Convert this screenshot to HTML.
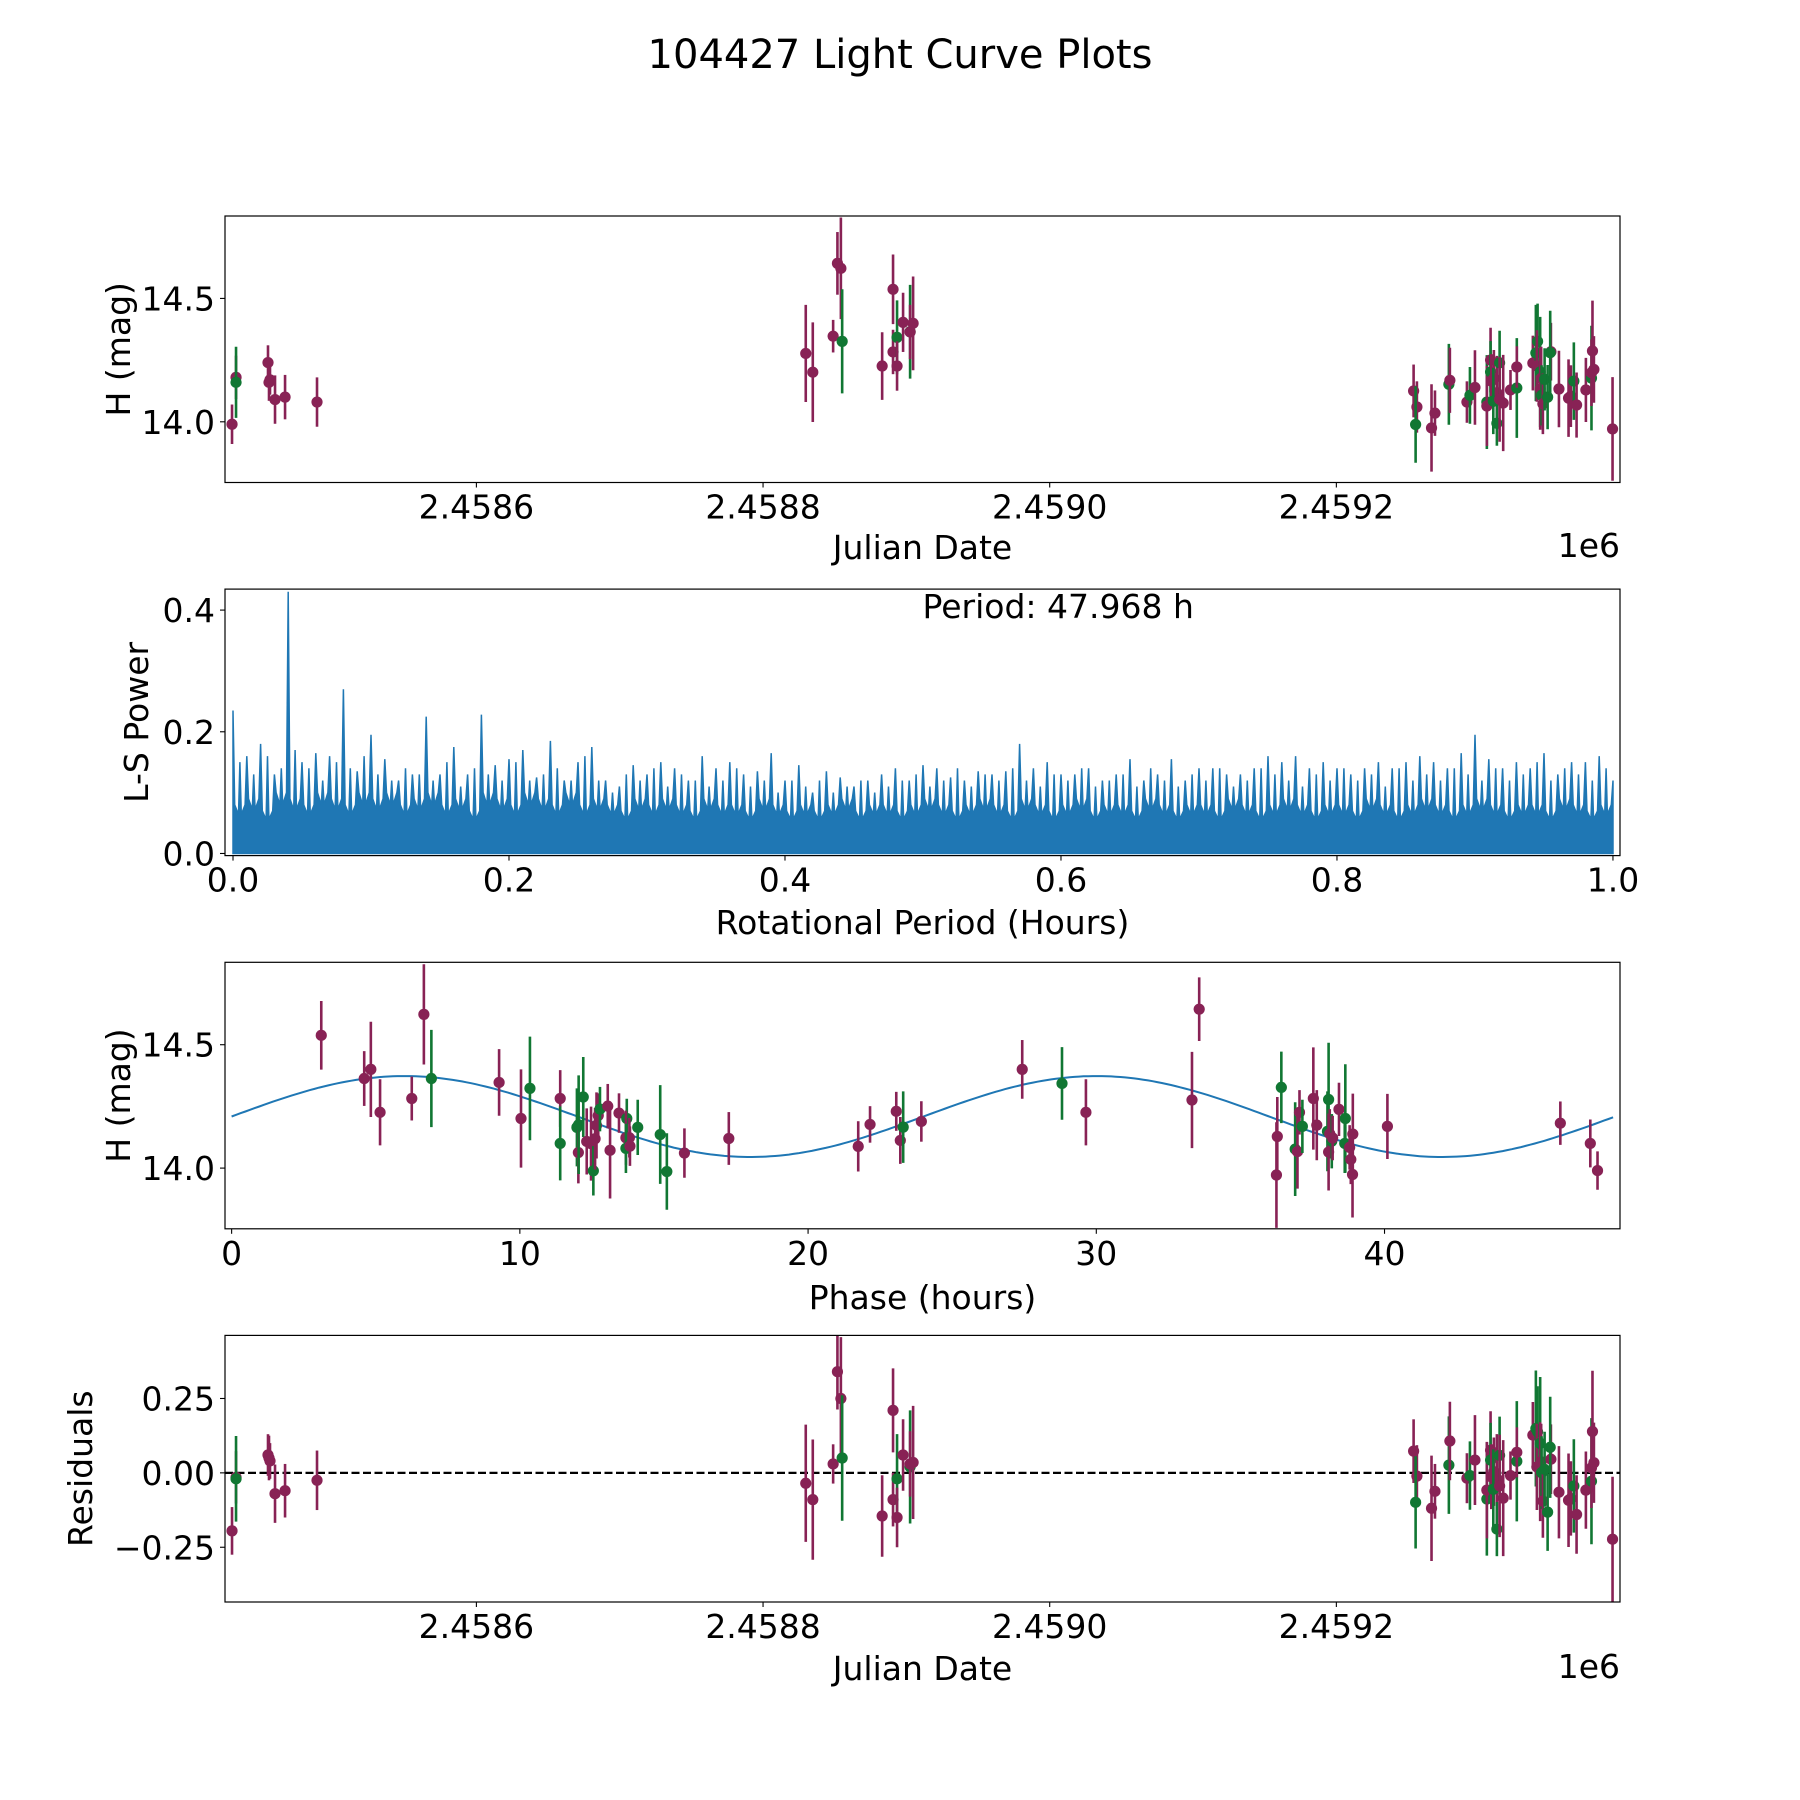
<!DOCTYPE html>
<html>
<head>
<meta charset="utf-8">
<style>
html,body{margin:0;padding:0;background:#fff;}
svg{display:block;font-family:"DejaVu Sans","Liberation Sans",sans-serif;}
</style>
</head>
<body>
<svg id="fig" width="1800" height="1800" viewBox="0 0 1800 1800" xmlns="http://www.w3.org/2000/svg">
<rect x="0" y="0" width="1800" height="1800" fill="#fff"/>
<text x="900" y="68" font-size="40" text-anchor="middle">104427 Light Curve Plots</text>
</svg>
<script>
// ---------- Light curve data (JD - 2458000) ----------
const jdOffset = [429.5,432.3,432.3,454.6,455.3,456,459.5,466.5,488.8,
829.8,834.7,848.9,851.9,854.3,855.2,883.1,890.7,890.7,893.5,893.5,897.7,902.6,902.6,904.7,
1253.9,1256.2,1255.3,1266.4,1268.8,1278.5,1279.2,1291.1,1293.2,1296.7,1305.0,1305.0,1307.6,1307.6,1308.1,1309.9,1312.0,1312.0,1309.5,1313.9,1313.9,1316.4,1321.5,1325.9,1325.9,1337.1,1339.2,1340.4,1339.9,1342.2,1342.9,1342.2,1343.2,1344.1,1345.3,1347.4,1349.7,1349.2,1355.3,1362.0,1363.6,1365.7,1367.6,1374.1,1378.0,1378.0,1378.7,1379.7,1392.7];
const mags = [13.99,14.18,14.16,14.24,14.16,14.17,14.09,14.10,14.08,
14.277,14.201,14.347,14.642,14.622,14.326,14.226,14.537,14.283,14.342,14.226,14.403,14.365,14.364,14.399,
14.125,14.060,13.989,13.975,14.035,14.152,14.168,14.080,14.107,14.139,14.080,14.064,14.250,14.202,14.165,14.176,14.118,13.994,14.084,14.239,14.091,14.076,14.129,14.137,14.222,14.238,14.279,14.326,14.226,14.202,14.176,14.134,14.107,14.073,14.172,14.100,14.284,14.280,14.133,14.096,14.104,14.165,14.068,14.129,14.177,14.199,14.287,14.212,13.971];
const magErrs = [0.08,0.088,0.144,0.07,0.075,0.06,0.098,0.09,0.1,
0.197,0.202,0.066,0.127,0.206,0.211,0.137,0.141,0.09,0.15,0.1,0.12,0.19,0.11,0.19,
0.107,0.104,0.155,0.177,0.092,0.164,0.132,0.084,0.115,0.151,0.19,0.162,0.131,0.125,0.109,0.115,0.149,0.091,0.134,0.130,0.172,0.195,0.081,0.202,0.084,0.111,0.195,0.153,0.145,0.223,0.128,0.166,0.122,0.123,0.126,0.130,0.117,0.17,0.155,0.157,0.125,0.157,0.132,0.130,0.212,0.135,0.204,0.135,0.210];
const bands = ["m","m","g","m","m","m","m","m","m",
"m","m","m","m","m","g","m","m","m","g","m","m","g","m","m",
"m","m","g","m","m","g","m","m","g","m","g","m","m","g","m","m","m","g","g","g","m","m","m","g","m","m","g","g","m","g","m","m","g","m","g","g","m","g","m","m","m","g","m","m","g","m","m","m","m"];
const residuals = [-0.195,-0.015,-0.02,0.06,0.05,0.04,-0.07,-0.06,-0.025,
-0.035,-0.09,0.03,0.34,0.25,0.05,-0.145,0.21,-0.09,-0.02,-0.15,0.06,0.02,0.03,0.035,
0.073,-0.011,-0.099,-0.119,-0.062,0.026,0.107,-0.018,-0.009,0.043,-0.088,-0.058,0.076,0.043,-0.013,0.004,-0.019,-0.189,-0.055,0.059,-0.044,-0.085,-0.009,0.039,0.069,0.127,0.149,0.138,0.020,0.099,0.037,0.004,0.001,-0.095,0.012,-0.132,0.046,0.086,-0.065,-0.092,-0.086,-0.044,-0.140,-0.058,-0.028,0.017,0.139,0.034,-0.223];
const jdTicks = [2458600,2458800,2459000,2459200];
const jdTickLabels = ["2.4586","2.4588","2.4590","2.4592"];
const magTicks = [14.0,14.5];
const magTickLabels = ["14.0","14.5"];
const residTicks = [-0.25,0,0.25];
const residTickLabels = ["\u22120.25","0.00","0.25"];

// ---------- Phase-folded data ----------
const phaseHours = [3.11,4.60,4.83,5.15,6.25,6.67,6.93,9.28,10.04,10.35,11.40,11.40,11.98,12.03,12.04,12.20,12.32,12.47,12.55,12.61,12.66,12.72,12.78,13.05,13.13,13.44,13.71,13.68,13.80,13.68,13.82,14.09,14.87,15.10,15.71,
17.25,21.74,22.15,23.06,23.20,23.30,23.93,27.43,28.81,29.64,
33.32,33.57,36.42,36.28,36.25,36.90,36.98,37.05,37.15,37.53,37.65,38.02,38.06,38.06,38.10,38.17,38.20,38.42,38.64,38.62,38.79,38.83,38.90,38.89,40.10,46.10,47.14,47.39];
const phaseMags = [14.538,14.363,14.400,14.226,14.282,14.623,14.363,14.347,14.201,14.323,14.282,14.100,14.165,14.063,14.176,14.288,14.108,14.099,13.989,14.119,14.173,14.213,14.239,14.251,14.072,14.223,14.201,14.123,14.123,14.080,14.089,14.165,14.136,13.986,14.061,
14.120,14.088,14.177,14.230,14.112,14.166,14.189,14.400,14.343,14.226,
14.276,14.644,14.327,14.128,13.972,14.077,14.067,14.226,14.169,14.282,14.174,14.149,14.278,14.065,14.139,14.109,14.122,14.238,14.201,14.100,14.084,14.035,14.138,13.974,14.169,14.182,14.100,13.990];
const phaseErrs = [0.139,0.111,0.193,0.134,0.089,0.203,0.197,0.135,0.199,0.210,0.115,0.15,0.158,0.125,0.2,0.162,0.134,0.15,0.1,0.125,0.134,0.09,0.09,0.09,0.195,0.08,0.08,0.11,0.08,0.1,0.08,0.112,0.2,0.155,0.1,
0.107,0.102,0.074,0.079,0.095,0.145,0.082,0.119,0.147,0.134,
0.195,0.129,0.145,0.16,0.214,0.19,0.15,0.09,0.108,0.207,0.142,0.162,0.23,0.156,0.1,0.11,0.09,0.108,0.22,0.12,0.09,0.1,0.164,0.174,0.132,0.088,0.097,0.078];
const phaseBands = ["m","m","m","m","m","m","g","m","m","g","m","g","g","m","g","g","m","m","g","m","m","m","g","m","m","m","g","m","m","g","m","g","g","g","m",
"m","m","m","m","m","g","m","m","g","m",
"m","m","g","m","m","g","m","m","g","m","m","g","g","m","m","g","m","m","g","g","m","m","m","m","m","m","m","m"];
const fitParams = [14.209, 0.164, 24.0];   // mean mag, amplitude, period (h)
const phaseMax = 47.93;
const phaseTicks = [0,10,20,30,40];

// ---------- Periodogram ----------
const lsPeaks = [0.235,0.16,0.18,0.13,0.43,0.15,0.165,0.16,0.27,0.135,0.195,0.155,0.12,0.13,0.225,0.13,0.175,0.13,0.228,0.145,0.155,0.17,0.125,0.185,0.12,0.15,0.175,0.12,0.11,0.145,0.13,0.15,0.14,0.12,0.16,0.14,0.15,0.13,0.135,0.165,0.12,0.145,0.10,0.135,0.125,0.11,0.12,0.13,0.14,0.12,0.145,0.14,0.125,0.12,0.135,0.13,0.135,0.18,0.14,0.15,0.13,0.13,0.14,0.12,0.13,0.155,0.12,0.13,0.155,0.12,0.14,0.14,0.13,0.13,0.14,0.16,0.15,0.16,0.14,0.15,0.14,0.13,0.14,0.15,0.14,0.15,0.16,0.15,0.14,0.165,0.195,0.155,0.14,0.15,0.14,0.165,0.13,0.15,0.15,0.16,0.12];
const lsPeaks2 = [0.15,0.13,0.16,0.14,0.17,0.14,0.12,0.15,0.14,0.16,0.13,0.12,0.14,0.13,0.12,0.15,0.11,0.14,0.13,0.12,0.15,0.12,0.13,0.14,0.12,0.16,0.12,0.10,0.13,0.12,0.14,0.11,0.13,0.12,0.11,0.12,0.14,0.11,0.12,0.10,0.12,0.11,0.12,0.10,0.11,0.12,0.10,0.11,0.12,0.13,0.11,0.12,0.14,0.11,0.13,0.12,0.14,0.12,0.11,0.13,0.12,0.14,0.11,0.12,0.13,0.11,0.14,0.12,0.11,0.13,0.12,0.14,0.11,0.12,0.14,0.13,0.12,0.11,0.13,0.12,0.14,0.12,0.13,0.11,0.14,0.12,0.13,0.12,0.14,0.13,0.12,0.14,0.12,0.13,0.15,0.12,0.14,0.13,0.12,0.14];
const lsTroughs = [0.08,0.09,0.07,0.10,0.09,0.08,0.10,0.09,0.08,0.10,0.09,0.10,0.08,0.09,0.10,0.08,0.09,0.07,0.10,0.09,0.08,0.10,0.09,0.08,0.10,0.08,0.09,0.08,0.07,0.09,0.08,0.09,0.08,0.07,0.09,0.08,0.08,0.07,0.09,0.08,0.07,0.08,0.07,0.08,0.09,0.07,0.08,0.08,0.07,0.08,0.09,0.08,0.07,0.08,0.09,0.08,0.07,0.09,0.08,0.07,0.08,0.09,0.07,0.08,0.08,0.07,0.09,0.08,0.07,0.08,0.08,0.07,0.09,0.08,0.07,0.08,0.09,0.08,0.07,0.08,0.08,0.07,0.09,0.08,0.07,0.08,0.09,0.08,0.07,0.08,0.09,0.08,0.07,0.08,0.08,0.07,0.09,0.08,0.07,0.08];
const lsStep = 0.01;
const lsXTicks = [0,0.2,0.4,0.6,0.8,1.0];
const lsXTickLabels = ["0.0","0.2","0.4","0.6","0.8","1.0"];
const lsYTicks = [0,0.2,0.4];
const lsYTickLabels = ["0.0","0.2","0.4"];
const bestPeriodText = "Period: 47.968 h";

const NS = "http://www.w3.org/2000/svg";
const svg = document.getElementById("fig");
const COLORS = {m:"#882255", g:"#117733"};
const FS = 33;

function el(tag, attrs, parent){
  const e = document.createElementNS(NS, tag);
  for (const k in attrs) e.setAttribute(k, attrs[k]);
  (parent||svg).appendChild(e);
  return e;
}
function makeAxes(name, box, xlim, ylim){
  const g = el("g", {});
  
  
  const sx = v => box.x0 + (v - xlim[0])/(xlim[1]-xlim[0])*(box.x1-box.x0);
  const sy = v => box.y1 - (v - ylim[0])/(ylim[1]-ylim[0])*(box.y1-box.y0);
  const clipId = name + "-clip";
  const cp = el("clipPath", {id: clipId}, g);
  el("rect", {x: box.x0, y: box.y0, width: box.x1-box.x0, height: box.y1-box.y0}, cp);
  const plot = el("g", {"clip-path": "url(#"+clipId+")"}, g);
  
  
  return {g, plot, sx, sy, box};
}
function frame(ax){
  const b = ax.box;
  const r = el("rect", {x:b.x0, y:b.y0, width:b.x1-b.x0, height:b.y1-b.y0, fill:"none", stroke:"#000", "stroke-width":1.2}, ax.g);
  
  
}
function xTicks(ax, vals, labels){
  vals.forEach((v,i)=>{
    const x = ax.sx(v);
    el("line", {x1:x, x2:x, y1:ax.box.y1, y2:ax.box.y1+5, stroke:"#000", "stroke-width":1.1}, ax.g);
    const t = el("text", {x:x, y:ax.box.y1+36, "font-size":FS, "text-anchor":"middle"}, ax.g);
    
    
    t.textContent = labels[i];
  });
}
function yTicks(ax, vals, labels){
  vals.forEach((v,i)=>{
    const y = ax.sy(v);
    el("line", {x1:ax.box.x0-5, x2:ax.box.x0, y1:y, y2:y, stroke:"#000", "stroke-width":1.1}, ax.g);
    const t = el("text", {x:ax.box.x0-10, y:y+12, "font-size":FS, "text-anchor":"end"}, ax.g);
    
    
    t.textContent = labels[i];
  });
}
function xLabel(ax, text, y){
  const t = el("text", {x:(ax.box.x0+ax.box.x1)/2, y:y, "font-size":FS, "text-anchor":"middle"}, ax.g);
  
  
  t.textContent = text;
}
function yLabel(ax, text, x){
  const cy = (ax.box.y0+ax.box.y1)/2;
  const t = el("text", {x:x, y:cy, "font-size":FS, "text-anchor":"middle", transform:"rotate(-90 "+x+" "+cy+")"}, ax.g);
  
  
  t.textContent = text;
}
function offsetText(ax, y){
  const t = el("text", {x:ax.box.x1, y:y, "font-size":FS, "text-anchor":"end"}, ax.g);
  
  
  t.textContent = "1e6";
}
function errorPoints(ax, xs, ys, errs, bs, name){
  xs.forEach((xv,i)=>{
    const x = ax.sx(xv), y = ax.sy(ys[i]);
    const c = COLORS[bs[i]];
    const bar = el("line", {x1:x, x2:x, y1:ax.sy(ys[i]+errs[i]), y2:ax.sy(ys[i]-errs[i]), stroke:c, "stroke-width":2.6}, ax.plot);
    
    
    const dot = el("circle", {cx:x, cy:y, r:5.6, fill:c}, ax.plot);
    
    
  });
}

const X0 = 225, X1 = 1620;
const jdAbs = jdOffset.map(d => 2458000 + d);

// ---- Panel 1: light curve ----
const ax1 = makeAxes("light-curve-panel", {x0:X0, x1:X1, y0:216, y1:482.5}, [2458424.6, 2459397.9], [13.754, 14.834]);
errorPoints(ax1, jdAbs, mags, magErrs, bands, "light-curve");
frame(ax1);
xTicks(ax1, jdTicks, jdTickLabels);
yTicks(ax1, magTicks, magTickLabels);
xLabel(ax1, "Julian Date", 559);
yLabel(ax1, "H (mag)", 130);
offsetText(ax1, 557);

// ---- Panel 2: periodogram ----
const ax2 = makeAxes("periodogram-panel", {x0:X0, x1:X1, y0:589.1, y1:855.6}, [-0.0058, 1.0051], [-0.0035, 0.4345]);
let pts = [[ax2.sx(0), ax2.sy(0)]];
lsPeaks.forEach((p,i)=>{
  const f = i*lsStep;
  if (i>0) pts.push([ax2.sx(f - 0.0012), ax2.sy(lsTroughs[i-1])]);
  pts.push([ax2.sx(f), ax2.sy(p)]);
  if (i < lsTroughs.length){
    pts.push([ax2.sx(f + 0.0012), ax2.sy(lsTroughs[i])]);
    pts.push([ax2.sx(f + 0.004), ax2.sy(lsTroughs[i]*0.8)]);
    pts.push([ax2.sx(f + 0.005), ax2.sy(lsPeaks2[i])]);
    pts.push([ax2.sx(f + 0.006), ax2.sy(lsTroughs[i]*0.8)]);
  }
});
pts.push([ax2.sx((lsPeaks.length-1)*lsStep), ax2.sy(0)]);
const poly = el("polygon", {points: pts.map(p=>p[0].toFixed(1)+","+p[1].toFixed(1)).join(" "), fill:"#1f77b4", stroke:"#1f77b4", "stroke-width":1.5, "stroke-linejoin":"miter"}, ax2.plot);


frame(ax2);
xTicks(ax2, lsXTicks, lsXTickLabels);
yTicks(ax2, lsYTicks, lsYTickLabels);
xLabel(ax2, "Rotational Period (Hours)", 934);
yLabel(ax2, "L-S Power", 148);
const pt = el("text", {x:(X0+X1)/2, y:618, "font-size":FS, "text-anchor":"start"}, ax2.g);


pt.textContent = bestPeriodText;

// ---- Panel 3: phase folded ----
const ax3 = makeAxes("phase-panel", {x0:X0, x1:X1, y0:962.3, y1:1228.8}, [-0.23, 48.17], [13.754, 14.834]);
const N = 300;
let fitPts = [];
for (let k=0;k<=N;k++){
  const h = phaseMax*k/N;
  const m = fitParams[0] + fitParams[1]*Math.sin(2*Math.PI*h/fitParams[2]);
  fitPts.push(ax3.sx(h).toFixed(1)+","+ax3.sy(m).toFixed(1));
}
const fitLine = el("polyline", {points: fitPts.join(" "), fill:"none", stroke:"#1f77b4", "stroke-width":2}, ax3.plot);


errorPoints(ax3, phaseHours, phaseMags, phaseErrs, phaseBands, "phase");
frame(ax3);
xTicks(ax3, phaseTicks, phaseTicks.map(String));
yTicks(ax3, magTicks, magTickLabels);
xLabel(ax3, "Phase (hours)", 1309);
yLabel(ax3, "H (mag)", 130);

// ---- Panel 4: residuals ----
const ax4 = makeAxes("residuals-panel", {x0:X0, x1:X1, y0:1335.4, y1:1602}, [2458424.6, 2459397.9], [-0.434, 0.462]);
const zl = el("line", {x1:X0, x2:X1, y1:ax4.sy(0), y2:ax4.sy(0), stroke:"#000", "stroke-width":2.2, "stroke-dasharray":"8 3.5"}, ax4.plot);


errorPoints(ax4, jdAbs, residuals, magErrs, bands, "residual");
frame(ax4);
xTicks(ax4, jdTicks, jdTickLabels);
yTicks(ax4, residTicks, residTickLabels);
xLabel(ax4, "Julian Date", 1680);
yLabel(ax4, "Residuals", 92);
offsetText(ax4, 1678);
</script>
</body>
</html>
